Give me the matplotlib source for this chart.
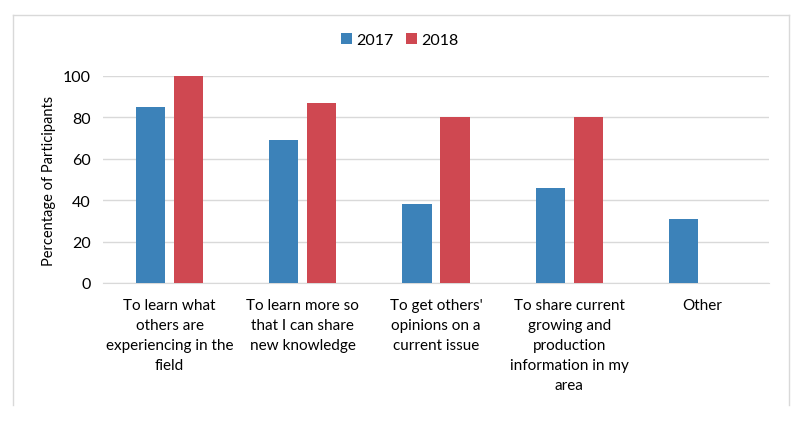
import matplotlib.pyplot as plt
import numpy as np
from matplotlib.lines import Line2D

categories = ["To learn what\nothers are\nexperiencing in the\nfield",
              "To learn more so\nthat I can share\nnew knowledge",
              "To get others'\nopinions on a\ncurrent issue",
              "To share current\ngrowing and\nproduction\ninformation in my\narea",
              "Other"]
v2017 = [85, 69, 38, 46, 31]
v2018 = [100, 87, 80, 80, 0]

plt.rcParams['font.family'] = ['Lato', 'DejaVu Sans']

fig = plt.figure(figsize=(8.12, 4.27), dpi=100)
ax = fig.add_axes([103/812, 1-284/427, 666/812, 207/427])

x = np.arange(len(categories))
w = 0.22
ax.bar(x - 0.143, v2017, w, color="#3c82b9", label="2017", zorder=3)
ax.bar(x + 0.143, v2018, w, color="#cf4851", label="2018", zorder=3)

ax.set_xlim(-0.5, 4.5)
ax.set_ylim(0, 100)
ax.set_yticks([0, 20, 40, 60, 80, 100])
ax.grid(axis="y", color="#d9d9d9", linewidth=1, zorder=0)
ax.set_xticks(x)
ax.set_xticklabels(categories, fontsize=11, linespacing=1.55, va="top")
ax.tick_params(axis="both", length=0, labelsize=11.5)
ax.tick_params(axis="x", pad=11, labelsize=11)
ax.tick_params(axis="y", pad=9)
for s in ["top", "right", "left"]:
    ax.spines[s].set_visible(False)
ax.spines["bottom"].set_color("#d9d9d9")
ax.set_ylabel("Percentage of Participants", fontsize=10.5, labelpad=5)

fig.legend(loc="center", bbox_to_anchor=(400/812, 1-41/427), ncol=2, frameon=False,
           fontsize=11.5, handlelength=0.65, handleheight=0.65, handletextpad=0.3,
           columnspacing=0.8)

# chart border (open at bottom)
bx0, bx1, by0, by1 = 13/812, 789/812, 1-16/427, 1-406/427
for xs, ys in [([bx0, bx0], [by1, by0]), ([bx0, bx1], [by0, by0]), ([bx1, bx1], [by0, by1])]:
    fig.add_artist(Line2D(xs, ys, color="#d9d9d9", linewidth=1, transform=fig.transFigure))

fig.savefig("out.png", dpi=100)
